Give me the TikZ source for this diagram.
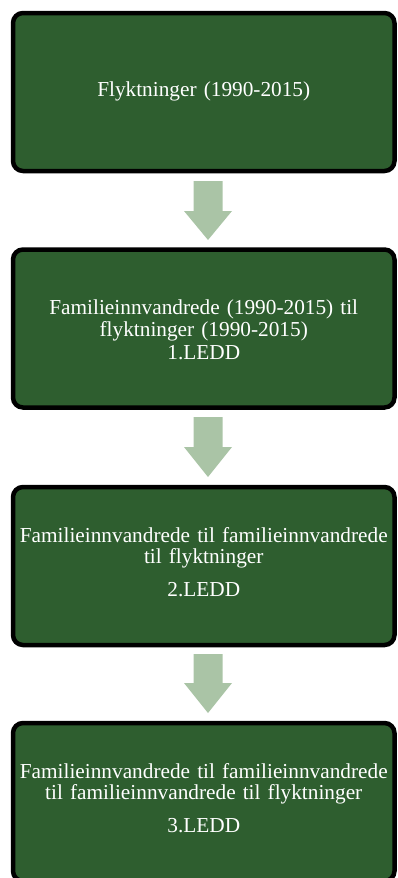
\documentclass[tikz,border=0pt]{standalone}
\usepackage{fontspec}
\setmainfont{Liberation Serif}
\definecolor{boxgreen}{RGB}{46,94,47}
\definecolor{arrowgreen}{RGB}{170,196,166}
\tikzset{
  stepbox/.style={draw=black, line width=4.5pt, fill=boxgreen, rounded corners=10pt,
    minimum width=381.5pt, minimum height=158pt, inner sep=0pt},
  steptext/.style={inner sep=0pt, text width=378pt, align=center, text=white,
    font=\fontsize{21.3}{21}\selectfont},
  blockarrow/.style={fill=arrowgreen, draw=none}
}
\begin{document}
\begin{tikzpicture}[x=1pt,y=-1pt]
\useasboundingbox (0,0) rectangle (397,878);
\clip (0,0) rectangle (397,878);
\node[stepbox] (b1) at (203.75,92) {};
\node[stepbox] (b2) at (203.75,328.5) {};
\node[stepbox] (b3) at (203.75,566) {};
\node[stepbox] (b4) at (203.75,802) {};
\node[steptext] (t1) at ([yshift=1pt]b1.center) {Flyktninger (1990-2015)};
\node[steptext, font=\fontsize{21.3}{22.5}\selectfont] (t2) at ([yshift=-1pt]b2.center) {Familieinnvandrede (1990-2015) til\\flyktninger (1990-2015)\\1.LEDD};
\node[steptext] (t3) at ([yshift=4pt]b3.center) {Familieinnvandrede til familieinnvandrede\\til flyktninger\\[12pt]2.LEDD};
\node[steptext] (t4) at ([yshift=4pt]b4.center) {Familieinnvandrede til familieinnvandrede\\til familieinnvandrede til flyktninger\\[12pt]3.LEDD};
\foreach \t/\h/\p in {181/211/240, 417/447/477, 654/683/713}{
  \path[blockarrow] (193.5,\t) -- (222.5,\t) -- (222.5,\h) -- (232,\h) -- (208,\p) -- (184,\h) -- (193.5,\h) -- cycle;
}
\end{tikzpicture}
\end{document}
